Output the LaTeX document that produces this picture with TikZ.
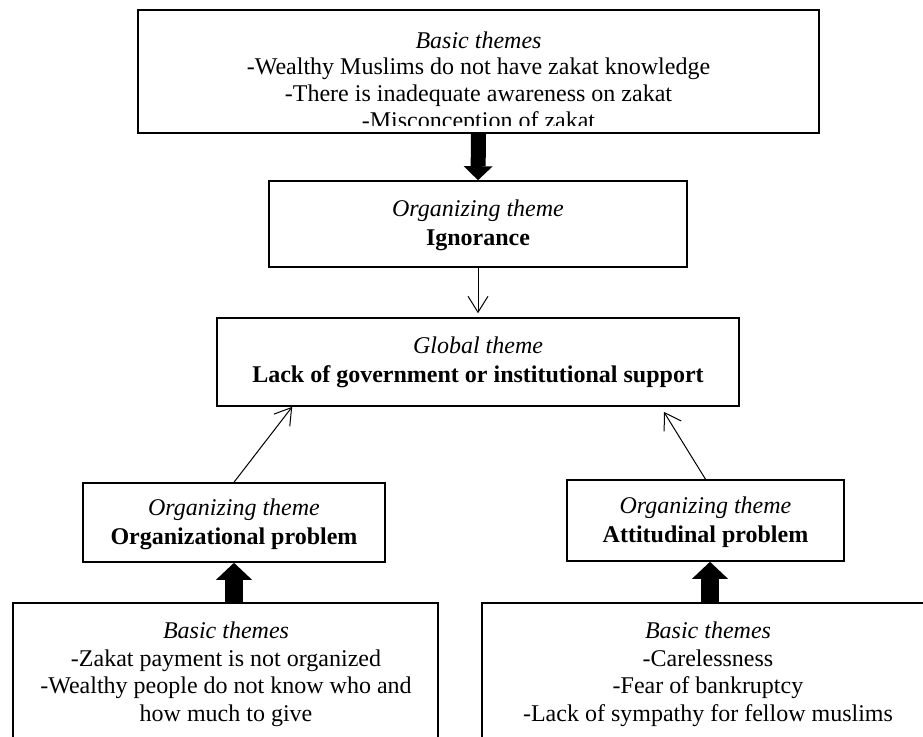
\documentclass[tikz,border=0pt]{standalone}
\usepackage{fontspec}
\setmainfont{Liberation Serif}
\usetikzlibrary{arrows.meta,calc}
\begin{document}
\begin{tikzpicture}[x=1pt,y=-1pt,
  box/.style={draw, line width=1.6pt, rectangle, inner sep=0pt},
  txt/.style={font=\fontsize{24}{28}\selectfont, inner sep=0pt, anchor=base},
  thinarrow/.style={line width=1pt, -{Straight Barb[length=16pt,width=20pt]}},
  fattop/.style={line width=15pt, -{Triangle[length=14pt,width=29pt,line width=0pt]}},
  fatbot/.style={line width=18pt, -{Triangle[length=17pt,width=36pt,line width=0pt]}}
]
\useasboundingbox (0,0) rectangle (923,736);
\clip (0,0) rectangle (923,736);
\fill[white] (0,0) rectangle (923,736);

% boxes
\node[box, minimum width=681pt, minimum height=123pt] (top) at (478.5,71.5) {};
\node[box, minimum width=418pt, minimum height=86pt] (ign) at (478,224) {};
\node[box, minimum width=522pt, minimum height=88pt] (glob) at (478,362) {};
\node[box, minimum width=302pt, minimum height=79pt] (org) at (234,522.5) {};
\node[box, minimum width=277pt, minimum height=81pt] (att) at (705.5,520.5) {};
\node[box, minimum width=425pt, minimum height=157pt] (bl) at (225.5,681.5) {};
\node[box, minimum width=458pt, minimum height=157pt] (br) at (711,681.5) {};

% top box text (clipped inside the box)
\begin{scope}
\clip (138,10) rectangle (819,125.5);
\node[txt] (t1) at (478.5,48) {\itshape Basic themes};
\node[txt] (t2) at (478.5,74) {-Wealthy Muslims do not have zakat knowledge};
\node[txt] (t3) at (478.5,101) {-There is inadequate awareness on zakat};
\node[txt] (t4) at (478.5,128) {-Misconception of zakat};
\end{scope}

\node[txt] (i1) at (478,216) {\itshape Organizing theme};
\node[txt] (i2) at (478,245) {\bfseries Ignorance};

\node[txt] (g1) at (478,353) {\itshape Global theme};
\node[txt] (g2) at (478,382) {\bfseries Lack of government or institutional support};

\node[txt] (o1) at (234,515.5) {\itshape Organizing theme};
\node[txt] (o2) at (234,544.5) {\bfseries Organizational problem};

\node[txt] (a1) at (705.5,513.5) {\itshape Organizing theme};
\node[txt] (a2) at (705.5,542.5) {\bfseries Attitudinal problem};

\node[txt] (l1) at (226,638) {\itshape Basic themes};
\node[txt] (l2) at (226,666) {-Zakat payment is not organized};
\node[txt] (l3) at (226,693) {-Wealthy people do not know who and};
\node[txt] (l4) at (226,721) {how much to give};

\node[txt] (r1) at (708,638) {\itshape Basic themes};
\node[txt] (r2) at (708,666) {-Carelessness};
\node[txt] (r3) at (708,693) {-Fear of bankruptcy};
\node[txt] (r4) at (708,721) {-Lack of sympathy for fellow muslims};

% connectors
\coordinate (gl) at ([xshift=76pt]glob.south west);
\coordinate (gr) at ([xshift=-76pt,yshift=-5pt]glob.south east);
\coordinate (attarr) at ([xshift=4.5pt]att.south);
\draw[fattop] (top.south) -- (ign.north);
\draw[thinarrow, shorten >=4pt] (ign.south) -- (glob.north);
\draw[thinarrow] (org.north) -- (gl);
\draw[thinarrow] (att.north) -- (gr);
\draw[fatbot] (org.south |- bl.north) -- (org.south);
\draw[fatbot] (attarr |- br.north) -- (attarr);
\end{tikzpicture}
\end{document}
